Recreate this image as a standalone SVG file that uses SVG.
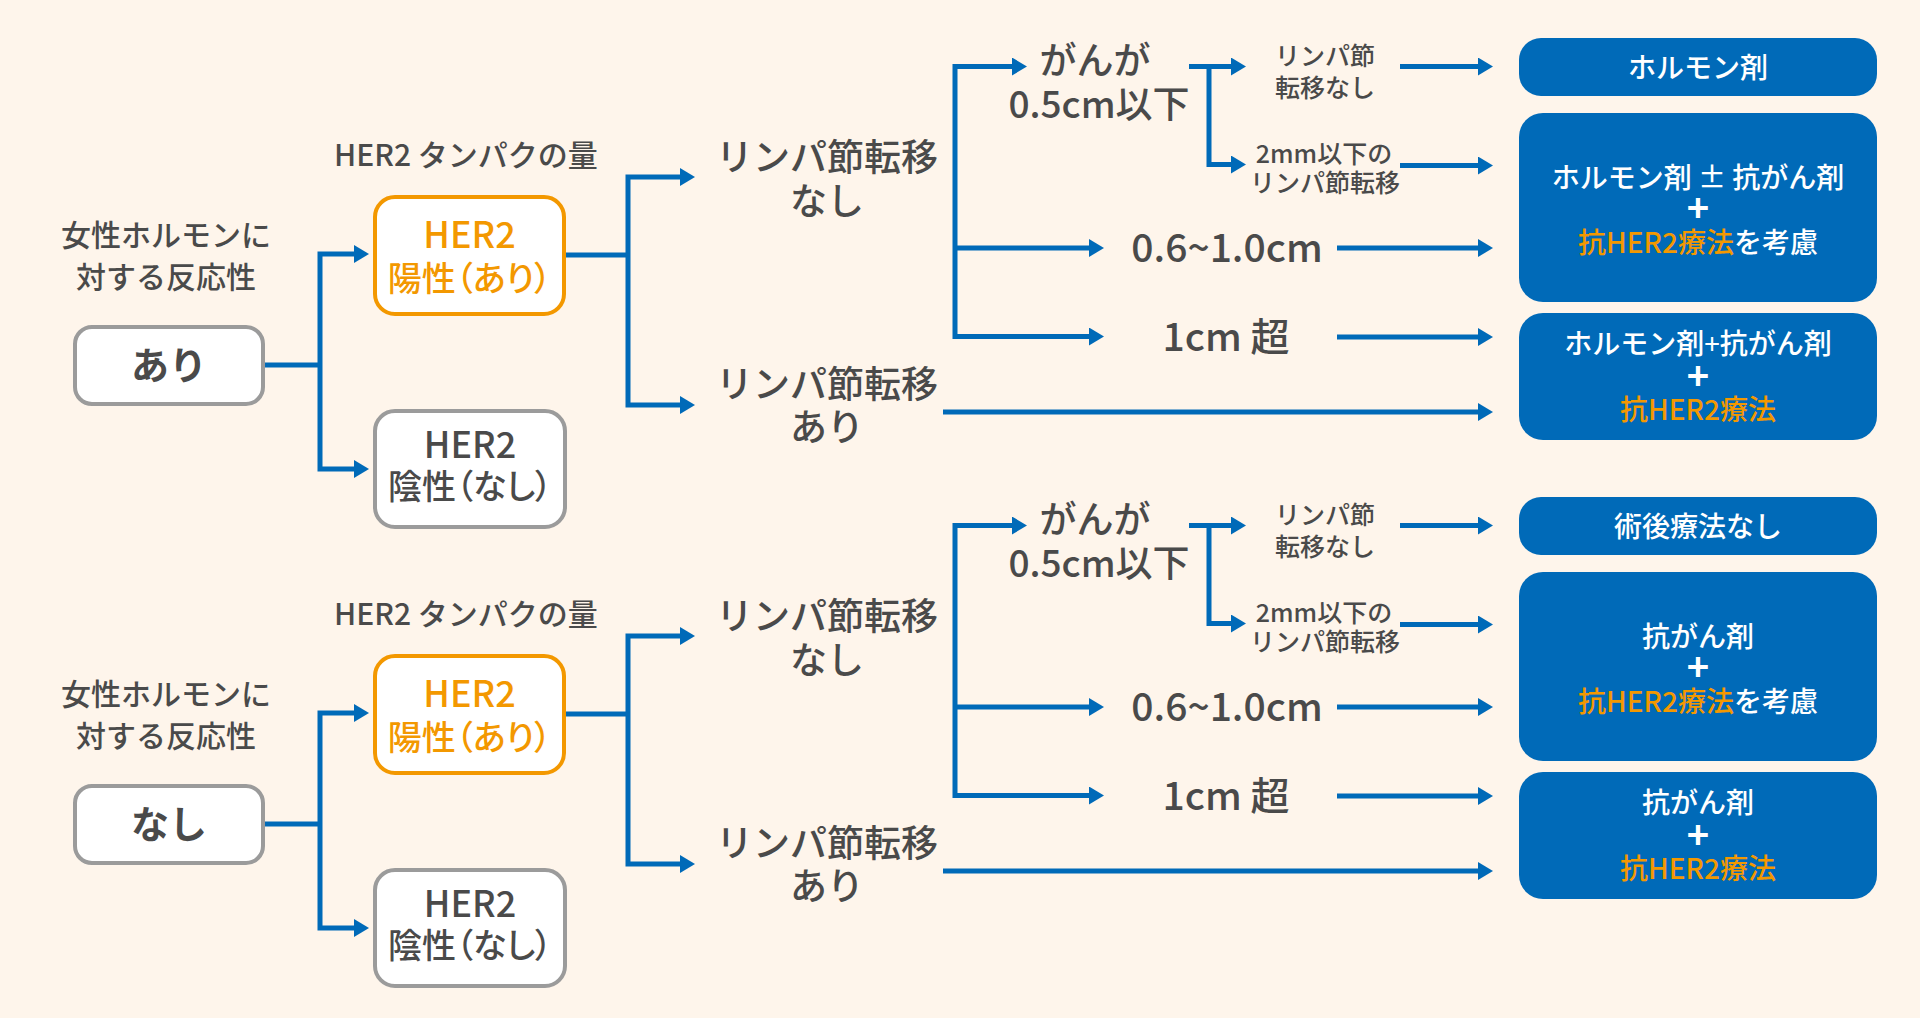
<svg xmlns="http://www.w3.org/2000/svg" width="1920" height="1018" viewBox="0 0 1920 1018">
<defs>
<style>
text{font-family:"Noto Sans CJK JP","Noto Sans",sans-serif;font-weight:500;text-anchor:middle;fill:#4a4a4a}
.w{fill:#ffffff}
.o{fill:#f39800}
.s30{font-size:30px}
.s25{font-size:25px}
.s37{font-size:37px}
.s39{font-size:39px}
.b28{font-size:28px}
.pl{font-size:38px;font-weight:700}
.pal{font-feature-settings:"palt"}
.gbox{fill:#ffffff;stroke:#9b9b9b;stroke-width:4}
.obox{fill:#ffffff;stroke:#f39800;stroke-width:4}
.bbox{fill:#006ab8}
.ln{fill:none;stroke:#006ab8;stroke-width:5}
.ar{marker-end:url(#ah)}
.ar2{marker-start:url(#ah);marker-end:url(#ah)}
</style>
<marker id="ah" markerUnits="userSpaceOnUse" markerWidth="16" markerHeight="18" viewBox="0 0 16 18" refX="3" refY="9" orient="auto-start-reverse">
<path d="M0,0 L15,9 L0,18 z" fill="#006ab8"/>
</marker>
</defs>
<rect width="1920" height="1018" fill="#fef5eb"/>

<g id="connectors">
<g id="conn-top">
<path class="ln" d="M263,365 H320"/>
<path class="ln ar2" d="M357,254 H320 V469 H357"/>
<path class="ln" d="M564,255 H628"/>
<path class="ln ar2" d="M683,177 H628 V405 H683"/>
<path class="ln ar2" d="M1015,66.5 H955 V336.5 H1092"/>
<path class="ln ar" d="M955,248 H1092"/>
<path class="ln ar" d="M1189,66.5 H1234"/>
<path class="ln ar" d="M1209,66.5 V164.5 H1234"/>
<path class="ln ar" d="M1400,66.5 H1481"/>
<path class="ln ar" d="M1400,165.5 H1481"/>
<path class="ln ar" d="M1337,248 H1481"/>
<path class="ln ar" d="M1337,337 H1481"/>
<path class="ln ar" d="M943,412 H1481"/>
</g>
<g id="conn-bottom" transform="translate(0,459)">
<path class="ln" d="M263,365 H320"/>
<path class="ln ar2" d="M357,254 H320 V469 H357"/>
<path class="ln" d="M564,255 H628"/>
<path class="ln ar2" d="M683,177 H628 V405 H683"/>
<path class="ln ar2" d="M1015,66.5 H955 V336.5 H1092"/>
<path class="ln ar" d="M955,248 H1092"/>
<path class="ln ar" d="M1189,66.5 H1234"/>
<path class="ln ar" d="M1209,66.5 V164.5 H1234"/>
<path class="ln ar" d="M1400,66.5 H1481"/>
<path class="ln ar" d="M1400,165.5 H1481"/>
<path class="ln ar" d="M1337,248 H1481"/>
<path class="ln ar" d="M1337,337 H1481"/>
<path class="ln ar" d="M943,412 H1481"/>
</g>
</g>

<!-- top half -->
<g id="label-hormone-1"><text class="s30" x="166" y="246">女性ホルモンに</text><text class="s30" x="166" y="288">対する反応性</text></g>
<g id="node-ari"><rect class="gbox" x="75" y="327" width="188" height="77" rx="17"/><text x="169" y="379" style="font-size:38px;font-weight:700">あり</text></g>
<g id="label-her2-1"><text class="s30" x="466" y="166">HER2 タンパクの量</text></g>
<g id="node-her2pos-1"><rect class="obox" x="375" y="197" width="189" height="117" rx="20"/><text class="o" x="469.5" y="248" style="font-size:36px">HER2</text><text class="o pal" x="469.5" y="291" style="font-size:34px">陽性（あり）</text></g>
<g id="node-her2neg-1"><rect class="gbox" x="375" y="411" width="190" height="116" rx="20"/><text x="470" y="458" style="font-size:36px">HER2</text><text class="pal" x="470" y="499" style="font-size:34px">陰性（なし）</text></g>
<g id="node-ln-none-1"><text class="s37" x="827" y="171">リンパ節転移</text><text class="s37" x="827" y="215">なし</text></g>
<g id="node-ln-yes-1"><text class="s37" x="827" y="398">リンパ節転移</text><text class="s37" x="827" y="441">あり</text></g>
<g id="node-small-1"><text class="s37" x="1095" y="74">がんが</text><text class="s37" x="1099" y="118">0.5cm以下</text></g>
<g id="node-mid-1"><text class="s39" x="1227" y="262">0.6~1.0cm</text></g>
<g id="node-large-1"><text class="s39" x="1226" y="351">1cm 超</text></g>
<g id="node-nometa-1"><text class="s25" x="1325" y="64.5">リンパ節</text><text class="s25" x="1325" y="96.5">転移なし</text></g>
<g id="node-micro-1"><text class="s25" x="1324" y="162.5">2mm以下の</text><text class="s25" x="1325" y="191.5">リンパ節転移</text></g>
<g id="res-1a"><rect class="bbox" x="1519" y="38" width="358" height="58" rx="22"/><text class="w b28" x="1698" y="77.5">ホルモン剤</text></g>
<g id="res-1b"><rect class="bbox" x="1519" y="113" width="358" height="189" rx="24"/><text class="w b28" x="1698" y="187.5">ホルモン剤 ± 抗がん剤</text><text class="w pl" x="1698" y="222">+</text><text class="b28" x="1698" y="252.5"><tspan class="o">抗HER2療法</tspan><tspan class="w">を考慮</tspan></text></g>
<g id="res-1c"><rect class="bbox" x="1519" y="313" width="358" height="127" rx="24"/><text class="w b28" x="1698" y="353.5">ホルモン剤<tspan style="font-weight:400">+</tspan>抗がん剤</text><text class="w pl" x="1698" y="390">+</text><text class="o b28" x="1698" y="419.5">抗HER2療法</text></g>

<!-- bottom half -->
<g id="label-hormone-2" transform="translate(0,459)"><text class="s30" x="166" y="246">女性ホルモンに</text><text class="s30" x="166" y="288">対する反応性</text></g>
<g id="node-nashi" transform="translate(0,459)"><rect class="gbox" x="75" y="327" width="188" height="77" rx="17"/><text x="169" y="379" style="font-size:38px;font-weight:700">なし</text></g>
<g id="label-her2-2" transform="translate(0,459)"><text class="s30" x="466" y="166">HER2 タンパクの量</text></g>
<g id="node-her2pos-2" transform="translate(0,459)"><rect class="obox" x="375" y="197" width="189" height="117" rx="20"/><text class="o" x="469.5" y="248" style="font-size:36px">HER2</text><text class="o pal" x="469.5" y="291" style="font-size:34px">陽性（あり）</text></g>
<g id="node-her2neg-2" transform="translate(0,459)"><rect class="gbox" x="375" y="411" width="190" height="116" rx="20"/><text x="470" y="458" style="font-size:36px">HER2</text><text class="pal" x="470" y="499" style="font-size:34px">陰性（なし）</text></g>
<g id="node-ln-none-2" transform="translate(0,459)"><text class="s37" x="827" y="171">リンパ節転移</text><text class="s37" x="827" y="215">なし</text></g>
<g id="node-ln-yes-2" transform="translate(0,459)"><text class="s37" x="827" y="398">リンパ節転移</text><text class="s37" x="827" y="441">あり</text></g>
<g id="node-small-2" transform="translate(0,459)"><text class="s37" x="1095" y="74">がんが</text><text class="s37" x="1099" y="118">0.5cm以下</text></g>
<g id="node-mid-2" transform="translate(0,459)"><text class="s39" x="1227" y="262">0.6~1.0cm</text></g>
<g id="node-large-2" transform="translate(0,459)"><text class="s39" x="1226" y="351">1cm 超</text></g>
<g id="node-nometa-2" transform="translate(0,459)"><text class="s25" x="1325" y="64.5">リンパ節</text><text class="s25" x="1325" y="96.5">転移なし</text></g>
<g id="node-micro-2" transform="translate(0,459)"><text class="s25" x="1324" y="162.5">2mm以下の</text><text class="s25" x="1325" y="191.5">リンパ節転移</text></g>
<g id="res-2a" transform="translate(0,459)"><rect class="bbox" x="1519" y="38" width="358" height="58" rx="22"/><text class="w b28" x="1698" y="77.5">術後療法なし</text></g>
<g id="res-2b" transform="translate(0,459)"><rect class="bbox" x="1519" y="113" width="358" height="189" rx="24"/><text class="w b28" x="1698" y="187.5">抗がん剤</text><text class="w pl" x="1698" y="222">+</text><text class="b28" x="1698" y="252.5"><tspan class="o">抗HER2療法</tspan><tspan class="w">を考慮</tspan></text></g>
<g id="res-2c" transform="translate(0,459)"><rect class="bbox" x="1519" y="313" width="358" height="127" rx="24"/><text class="w b28" x="1698" y="353.5">抗がん剤</text><text class="w pl" x="1698" y="390">+</text><text class="o b28" x="1698" y="419.5">抗HER2療法</text></g>
</svg>
